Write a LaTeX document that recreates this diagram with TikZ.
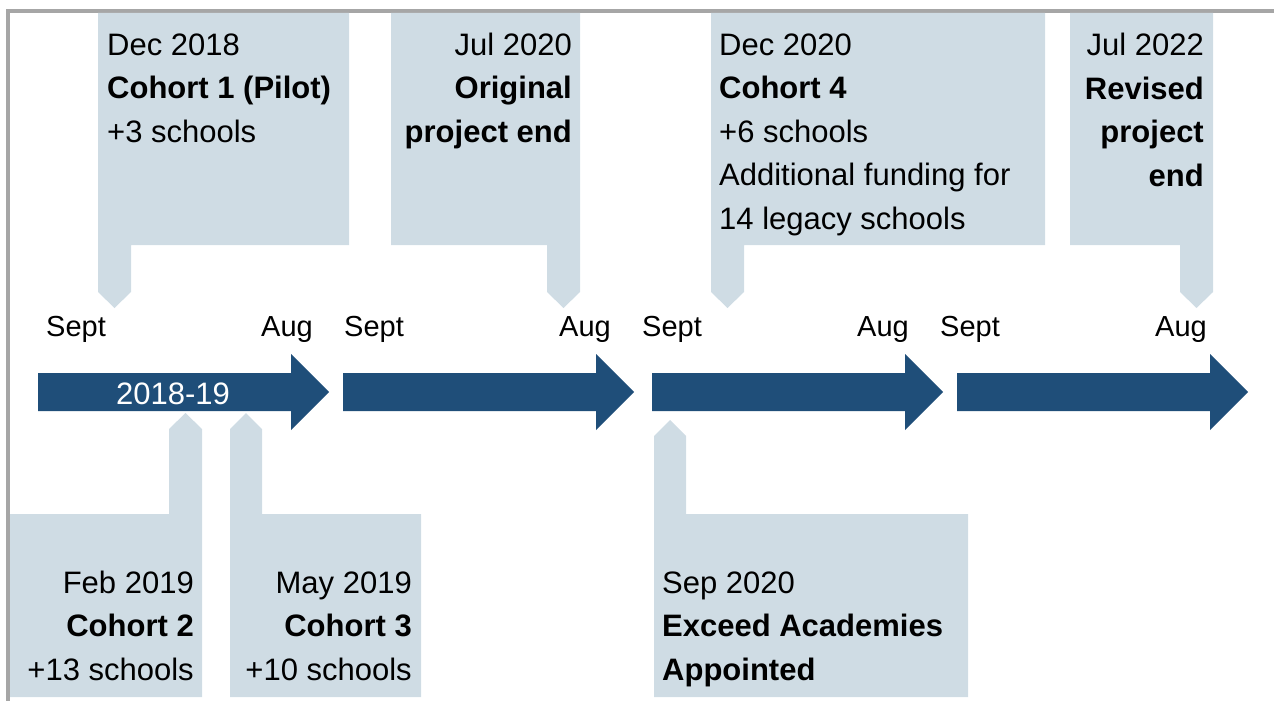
\documentclass[tikz,border=0pt]{standalone}
\usepackage{fontspec}
\setmainfont{Liberation Sans}
\definecolor{calloutfill}{HTML}{CFDCE4}
\definecolor{arrowblue}{HTML}{1F4E79}
\definecolor{framegray}{HTML}{A6A6A6}

\begin{document}
\begin{tikzpicture}[
    x=1pt, y=-1pt,
    txt/.style={inner sep=0pt, font=\fontsize{31}{43.5}\selectfont},
    lefttxt/.style={txt, align=left, anchor=base west},
    righttxt/.style={txt, align=right, anchor=base east},
    month/.style={inner sep=0pt, font=\fontsize{29}{35}\selectfont},
    callout/.style={fill=calloutfill},
    yeararrow/.style={fill=arrowblue}
]
\useasboundingbox (0,0) rectangle (1274,701);

% Frame
\draw[framegray, line width=4pt] (8,701) -- (8,11) -- (1274,11);

% Callouts above the timeline
\fill[callout] (98,13) -- (349,13) -- (349,245) -- (131,245) -- (131,292) -- (114.5,308) -- (98,292) -- cycle;
\fill[callout] (391,13) -- (580,13) -- (580,292) -- (563.5,308) -- (547,292) -- (547,245) -- (391,245) -- cycle;
\fill[callout] (711,13) -- (1045,13) -- (1045,245) -- (744,245) -- (744,292) -- (727.5,308) -- (711,292) -- cycle;
\fill[callout] (1070,13) -- (1213,13) -- (1213,292) -- (1196.5,308) -- (1180,292) -- (1180,245) -- (1070,245) -- cycle;

% Callouts below the timeline
\fill[callout] (10,697) -- (10,514) -- (169,514) -- (169,429) -- (185.5,413) -- (202,429) -- (202,697) -- cycle;
\fill[callout] (230,697) -- (230,429) -- (246,413) -- (262,429) -- (262,514) -- (421,514) -- (421,697) -- cycle;
\fill[callout] (654,697) -- (654,436) -- (670,420) -- (686,436) -- (686,514) -- (968,514) -- (968,697) -- cycle;

% Year arrows
\foreach \x in {38, 343, 652, 957}
  \fill[yeararrow] (\x,373) -- ({\x+253},373) -- ({\x+253},354) -- ({\x+291},392) -- ({\x+253},430) -- ({\x+253},411) -- (\x,411) -- cycle;
\node (yr1) at (173,404) [anchor=base, inner sep=0pt, text=white, font=\fontsize{31}{35}\selectfont] {2018-19};

% Months
\foreach \i in {0,...,3} {
  \node (sept\i) at ({46+298*\i},336) [month, anchor=base west] {Sept};
  \node (aug\i) at ({313+298*\i},336) [month, anchor=base east] {Aug};
}

% Milestones (placed at the baseline of their last line)
\node (dec18) at (107,142) [lefttxt] {Dec 2018\\\textbf{Cohort 1 (Pilot)}\\+3 schools};
\node (jul20) at (572,142) [righttxt] {Jul 2020\\\textbf{Original}\\\textbf{project end}};
\node (dec20) at (719,229) [lefttxt] {Dec 2020\\\textbf{Cohort 4}\\+6 schools\\Additional funding for\\14 legacy schools};
\node (jul22) at (1204,186) [righttxt] {Jul 2022\\\textbf{Revised}\\\textbf{project}\\\textbf{end}};
\node (feb19) at (194,680) [righttxt] {Feb 2019\\\textbf{Cohort 2}\\+13 schools};
\node (may19) at (412,680) [righttxt] {May 2019\\\textbf{Cohort 3}\\+10 schools};
\node (sep20) at (662,680) [lefttxt] {Sep 2020\\\textbf{Exceed Academies}\\\textbf{Appointed}};
\end{tikzpicture}
\end{document}
